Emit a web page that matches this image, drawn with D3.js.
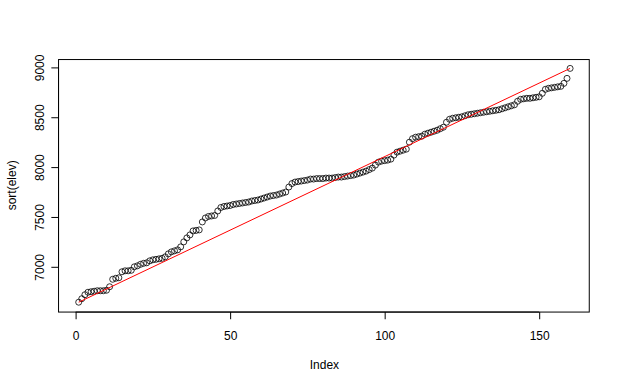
<!DOCTYPE html>
<html>
<head>
<meta charset="utf-8">
<script src="https://cdn.jsdelivr.net/npm/d3@7"></script>
<style>
  body { margin: 0; background: #fff; }
  svg text { font-family: "Liberation Sans", Arial, Helvetica, sans-serif; font-size: 12px; fill: #000; }
</style>
</head>
<body>
<div id="chart"></div>
<script>
// sorted elevations
var elev = [
    6645, 6680, 6720, 6745, 6750, 6755, 6760, 6760, 6760, 6765,
    6800, 6875, 6885, 6890, 6950, 6960, 6960, 6965, 7000, 7010,
    7025, 7035, 7040, 7060, 7070, 7075, 7080, 7085, 7100, 7130,
    7150, 7160, 7170, 7200, 7250, 7290, 7320, 7360, 7365, 7370,
    7450, 7490, 7505, 7510, 7515, 7560, 7595, 7605, 7610, 7615,
    7625, 7630, 7635, 7640, 7645, 7650, 7660, 7665, 7670, 7680,
    7690, 7700, 7710, 7715, 7720, 7730, 7740, 7750, 7800, 7835,
    7850, 7855, 7860, 7865, 7870, 7880, 7880, 7885, 7885, 7885,
    7890, 7890, 7890, 7895, 7900, 7900, 7905, 7910, 7915, 7920,
    7930, 7940, 7950, 7960, 7975, 7990, 8020, 8050, 8060, 8065,
    8070, 8080, 8120, 8150, 8160, 8170, 8180, 8250, 8285, 8300,
    8305, 8310, 8330, 8340, 8350, 8360, 8370, 8385, 8400, 8450,
    8480, 8490, 8495, 8500, 8505, 8515, 8525, 8530, 8535, 8540,
    8545, 8550, 8555, 8560, 8565, 8570, 8575, 8585, 8595, 8605,
    8615, 8625, 8660, 8680, 8685, 8690, 8690, 8695, 8700, 8705,
    8740, 8780, 8790, 8795, 8800, 8805, 8810, 8840, 8890, 8990
];
var xTicks = [0, 50, 100, 150];
var yTicks = [7000, 7500, 8000, 8500, 9000];
var xTitle = "Index";
var yTitle = "sort(elev)";

var W = 620, H = 385, lh = 14.4;
var margin = { top: 4.1 * lh, right: 2.1 * lh, bottom: 5.1 * lh, left: 4.1 * lh };

var n = elev.length;
var pts = elev.map(function (v, i) { return { i: i + 1, v: v }; });

var xpad = 0.04 * (n - 1);
var ymin = d3.min(elev), ymax = d3.max(elev), ypad = 0.04 * (ymax - ymin);

var x = d3.scaleLinear()
    .domain([1 - xpad, n + xpad])
    .range([margin.left, W - margin.right]);
var y = d3.scaleLinear()
    .domain([ymin - ypad, ymax + ypad])
    .range([H - margin.bottom, margin.top]);

var svg = d3.select("#chart")
    .append("svg")
    .attr("width", W)
    .attr("height", H);

var bottom = H - margin.bottom;

// x axis
var gx = svg.append("g")
    .attr("transform", `translate(0, ${bottom + 0.5})`)
    .call(d3.axisBottom(x).tickValues(xTicks).tickSize(7.2).tickFormat(d3.format("d")));
gx.select(".domain").remove();
gx.append("line")
    .attr("x1", x(xTicks[0])).attr("x2", x(xTicks[xTicks.length - 1]))
    .attr("stroke", "#000");
gx.selectAll(".tick line").attr("stroke", "#000");
gx.selectAll(".tick text")
    .attr("y", 2 * lh - 0.5)
    .attr("dy", null)
    .attr("fill", "#000")
    .style("font-size", "12px")
    .style("font-family", null);

// y axis
var gy = svg.append("g")
    .attr("transform", `translate(${margin.left - 0.5}, 0)`)
    .call(d3.axisLeft(y).tickValues(yTicks).tickSize(7.2).tickFormat(d3.format("d")));
gy.select(".domain").remove();
gy.append("line")
    .attr("y1", y(yTicks[0])).attr("y2", y(yTicks[yTicks.length - 1]))
    .attr("stroke", "#000");
gy.selectAll(".tick line").attr("stroke", "#000");
gy.selectAll(".tick text")
    .attr("x", null)
    .attr("dy", null)
    .attr("text-anchor", "middle")
    .attr("transform", `translate(${-lh}, 0) rotate(-90)`)
    .attr("fill", "#000")
    .style("font-size", "12px")
    .style("font-family", null);

// box
svg.append("rect")
    .attr("x", margin.left - 0.5)
    .attr("y", margin.top + 0.5)
    .attr("width", W - margin.right - margin.left)
    .attr("height", bottom - margin.top)
    .attr("fill", "none")
    .attr("stroke", "#000");

// axis titles
svg.append("text")
    .attr("x", (margin.left + W - margin.right) / 2)
    .attr("y", bottom + 4 * lh - 0.5)
    .attr("text-anchor", "middle")
    .text(xTitle);
svg.append("text")
    .attr("transform", `translate(${margin.left - 3 * lh}, ${(margin.top + bottom) / 2}) rotate(-90)`)
    .attr("text-anchor", "middle")
    .text(yTitle);

// points
svg.append("g")
    .selectAll("circle")
    .data(pts)
    .join("circle")
    .attr("cx", function (d) { return x(d.i); })
    .attr("cy", function (d) { return y(d.v); })
    .attr("r", 3)
    .attr("fill", "none")
    .attr("stroke", "#000")
    .attr("stroke-width", 0.8);

// red line from first to last point
svg.append("line")
    .attr("x1", x(pts[0].i)).attr("y1", y(pts[0].v))
    .attr("x2", x(pts[n - 1].i)).attr("y2", y(pts[n - 1].v))
    .attr("stroke", "#ff0000")
    .attr("stroke-width", 1);
</script>
</body>
</html>
